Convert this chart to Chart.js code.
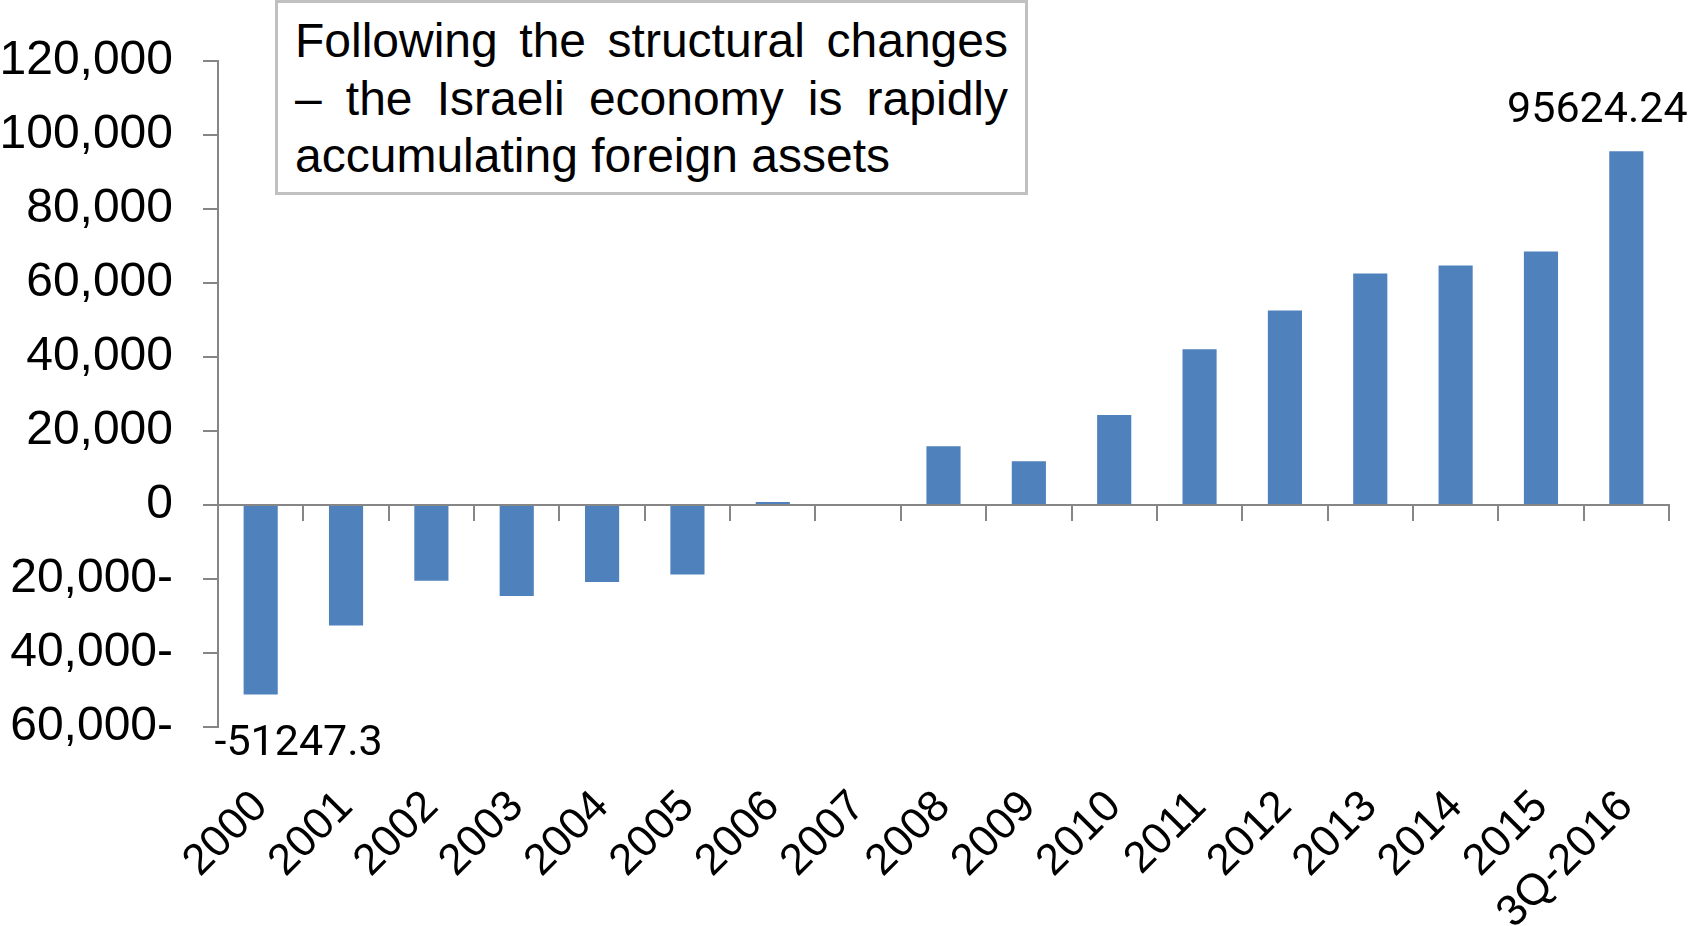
<!DOCTYPE html>
<html>
<head>
<meta charset="utf-8">
<script src="https://cdn.jsdelivr.net/npm/chart.js@4.4.1/dist/chart.umd.min.js"></script>
<style>
    html, body { margin: 0; padding: 0; background: #fff; }
    #wrap { position: relative; width: 1690px; height: 926px; }
    #note {
        position: absolute; left: 275px; top: 0; width: 753px; height: 195px;
        box-sizing: border-box; border: 3px solid #c0c0c0; background: #fff;
        padding: 9px 17px; font-family: "Liberation Sans", Arial, sans-serif;
        font-size: 48px; line-height: 57.5px; color: #000;
    }
    #note div { text-align: justify; text-align-last: justify; white-space: nowrap; }
    #note div.last { text-align-last: left; }
</style>
</head>
<body>
<div id="wrap">
    <canvas id="assetsChart" width="1690" height="926"></canvas>
    <div id="note">
        <div>Following the structural changes</div>
        <div>– the Israeli economy is rapidly</div>
        <div class="last">accumulating foreign assets</div>
    </div>
</div>
<script>
// categories and values (net foreign assets)
const years = ["2000", "2001", "2002", "2003", "2004", "2005", "2006", "2007", "2008",
    "2009", "2010", "2011", "2012", "2013", "2014", "2015", "3Q-2016"];
const netAssets = [-51247.3, -32600, -20500, -24600, -20800, -18800, 800, 0, 15900,
    11800, 24300, 42100, 52600, 62600, 64700, 68500, 95624.24];
// bars that carry a value label
const labeledBars = [0, 16];

const yMin = -60000;
const yMax = 120000;
const yStep = 20000;

const AXIS_GREY = "#868686";
const BAR_BLUE = "#4F81BD";

// y 标签: 负数写成 "20,000-"
function fmtTick(v) {
    const s = Math.abs(v).toLocaleString("en-US");
    return v < 0 ? s + "-" : s;
}

// 画首尾两根柱子的数值
const valueLabelPlugin = {
    id: "valueLabelPlugin",
    afterDatasetsDraw(chart) {
        const ctx = chart.ctx;
        const meta = chart.getDatasetMeta(0);
        ctx.save();
        ctx.font = "43px Roboto, sans-serif";
        ctx.fillStyle = "#000";
        ctx.textAlign = "center";
        ctx.textBaseline = "middle";
        labeledBars.forEach((i) => {
            const el = meta.data[i];
            const v = netAssets[i];
            if (v < 0) {
                ctx.fillText(String(v), el.x + 38, el.y + 50);
            } else {
                ctx.fillText(String(v), el.x - 29, el.y - 40);
            }
        });
        ctx.restore();
    }
};

new Chart(document.getElementById("assetsChart").getContext("2d"), {
    type: "bar",
    data: {
        labels: years,
        datasets: [
            {
                data: netAssets,
                backgroundColor: BAR_BLUE,
                borderWidth: 0,
                barPercentage: 0.4,
                categoryPercentage: 1.0,
                xAxisID: "x",
                yAxisID: "y"
            }
        ]
    },
    options: {
        responsive: false,
        animation: false,
        layout: { padding: { top: 61, right: 21, bottom: 0, left: 0 } },
        scales: {
            y: {
                min: yMin,
                max: yMax,
                afterFit(scale) { scale.width = 218; },
                ticks: {
                    stepSize: yStep,
                    padding: 30,
                    color: "#000",
                    font: { family: "'Liberation Sans', Arial, sans-serif", size: 48 },
                    callback: (v) => fmtTick(v)
                },
                grid: { drawOnChartArea: false, drawTicks: true, tickLength: 15, color: AXIS_GREY, lineWidth: 2 },
                border: { display: true, color: AXIS_GREY, width: 2 }
            },
            x: {
                position: "bottom",
                offset: true,
                afterFit(scale) {
                    scale.height = 199;
                    scale.paddingLeft = 0;
                    scale.paddingRight = 0;
                },
                ticks: {
                    autoSkip: false,
                    minRotation: 45,
                    maxRotation: 45,
                    padding: 54,
                    color: "#000",
                    font: { family: "'Liberation Sans', Arial, sans-serif", size: 44 }
                },
                grid: { display: false, drawTicks: false },
                border: { display: false }
            },
            x2: {
                type: "category",
                labels: years,
                position: { y: 0 },
                offset: true,
                ticks: { display: false },
                grid: { offset: true, drawOnChartArea: false, drawTicks: true, tickLength: 15, color: AXIS_GREY, lineWidth: 2 },
                border: { display: true, color: AXIS_GREY, width: 2 }
            }
        },
        plugins: {
            legend: { display: false },
            tooltip: { enabled: false }
        }
    },
    plugins: [valueLabelPlugin]
});
</script>
</body>
</html>
